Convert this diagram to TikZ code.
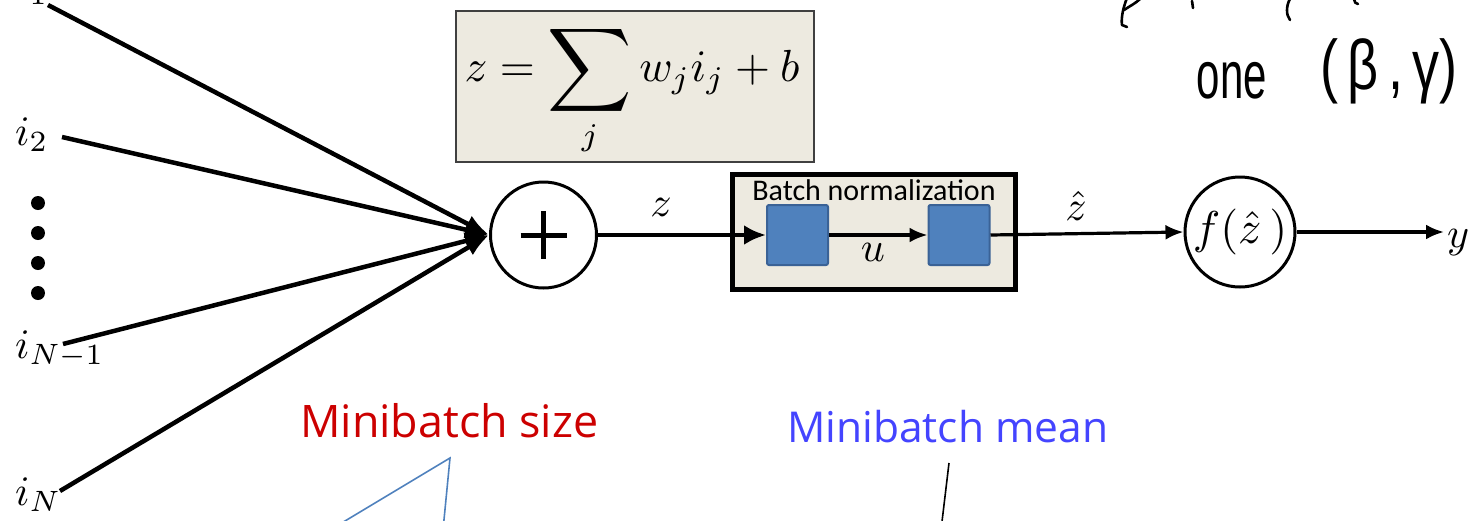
\documentclass[tikz,border=0pt]{standalone}
\usepackage{amsmath}
\usepackage{fontspec}
\usepackage{graphicx}
\usetikzlibrary{arrows.meta}
\newfontfamily\calib{Carlito}
\newfontfamily\comic{Open Sans}
\newfontfamily\hand{Liberation Sans}
\newcommand{\MS}[2]{\scalebox{#1}{$#2$}}
\newcommand{\BigSum}{\mathop{\vcenter{\hbox{\scalebox{1.3}{$\displaystyle\sum$}}}}\limits}
\definecolor{boxfill}{RGB}{237,234,224}
\definecolor{sqfill}{RGB}{79,129,189}
\definecolor{sqline}{RGB}{58,98,150}
\definecolor{mbred}{RGB}{204,0,0}
\definecolor{mbblue}{RGB}{68,68,255}
\definecolor{thinblue}{RGB}{79,129,189}
\begin{document}
\begin{tikzpicture}[x=1pt,y=-1pt,
  inp/.style={line width=4.5pt,-{Latex[length=24pt,width=18pt]}},
  mainarr/.style={line width=4.5pt,-{Latex[length=22pt,width=20pt]}},
  midarr/.style={line width=3.2pt,-{Latex[length=18pt,width=15pt]}},
  lab/.style={inner sep=0pt},
  sq/.style={draw=sqline,fill=sqfill,line width=2pt,rounded corners=2pt,minimum width=61pt,minimum height=60pt,inner sep=0pt},
  hw/.style={line width=2.6pt,line cap=round,line join=round},
  dot/.style={circle,fill=black,minimum size=14pt,inner sep=0pt}]
\useasboundingbox (0,0) rectangle (1476,520);

% input labels
\node[lab,anchor=base west] (i1) at (15,-2) {\MS{4.2}{i_1}};
\node[lab,anchor=base west] (i2) at (15,145) {\MS{4.2}{i_2}};
\node[lab,anchor=base west] (iN1) at (15,358) {\MS{4.2}{i_{N-1}}};
\node[lab,anchor=base west] (iN) at (15,505) {\MS{4.2}{i_N}};
\node[dot] (d1) at (38,203) {};
\node[dot] (d2) at (38,233) {};
\node[dot] (d3) at (38,263) {};
\node[dot] (d4) at (38,293) {};

% summation node
\node[circle,draw,line width=3pt,minimum size=106pt,inner sep=0pt] (plus) at (543.5,235) {};
\draw[line width=5pt] (plus.center) ++(-23,0) -- ++(46,0);
\draw[line width=5pt] (plus.center) ++(0,-24) -- ++(0,48);

\coordinate (s1) at (48,5);
\coordinate (s2) at (62,137);
\coordinate (s3) at (63,344);
\coordinate (s4) at (60,491);
\draw[inp] (s1) -- (plus.west);
\draw[inp] (s2) -- (plus.west);
\draw[inp] (s3) -- (plus.west);
\draw[inp] (s4) -- (plus.west);

% formula box
\node[draw=black!75,line width=2pt,fill=boxfill,minimum width=358pt,minimum height=151pt,inner sep=0pt] (zbox) at (635,86.5) {};
\node[inner sep=0pt] (formula) at (632,90) {\MS{4.5}{\displaystyle z=\BigSum_j w_j i_j+b}};

% batch normalization box
\node[draw,line width=5pt,fill=boxfill,minimum width=283pt,minimum height=115pt,inner sep=0pt] (bn) at (874,232) {};
\node[anchor=base,inner sep=0pt] (bntitle) at (874,200) {\calib\fontsize{30}{32}\selectfont Batch normalization};
\node[sq] (sq1) at (797.5,235) {};
\node[sq] (sq2) at (959,235) {};

% output node
\node[circle,draw,line width=3pt,minimum size=110pt,inner sep=0pt] (fc) at (1240,232) {\MS{4.6}{f(\hat z\,)}};
\coordinate (yend) at (1444,232);
\node[lab,anchor=base west] (yl) at (1447,247) {\MS{4.2}{y}};

% connectors
\draw[mainarr] (plus.east) -- (sq1.west);
\draw[midarr] (sq1.east) -- (sq2.west);
\draw[midarr] (sq2.east) -- (fc.west);
\draw[midarr] (fc.east) -- (yend);

% edge labels
\node[lab] (zl) at (661,207) {\MS{4.2}{z}};
\node[lab] (ul) at (873,252) {\MS{4.2}{u}};
\node[lab] (zhl) at (1076,206) {\MS{4.2}{\hat z}};

% annotations
\node[anchor=base west,inner sep=0pt,text=mbred] (mbs) at (300,437) {\resizebox{298pt}{!}{\comic Minibatch size}};
\node[anchor=base west,inner sep=0pt,text=mbblue] (mbm) at (787,442) {\resizebox{321pt}{!}{\comic Minibatch mean}};
\coordinate (ta) at (450,458);
\coordinate (tl) at (330,530);
\coordinate (tr) at (443,530);
\draw[thinblue,line width=1.6pt,line join=miter] (tl) -- (ta) -- (tr);
\coordinate (ma) at (949,463);
\coordinate (mb) at (941,530);
\draw[line width=1.6pt] (ma) -- (mb);

% handwriting
\draw[hw] (1127,-2) .. controls (1123,8) and (1121,18) .. (1122,25) -- (1127,27);
\draw[hw] (1124,10) .. controls (1130,6) and (1136,3) .. (1140,-1);
\draw[hw] (1192,1) -- (1193,8);
\draw[hw] (1290,-1) .. controls (1286,6) and (1286,15) .. (1290,20);
\draw[hw] (1354,-1) .. controls (1354,2) and (1356,4) .. (1358,4);
\node[inner sep=0pt] (hw1) at (1232,81) {\scalebox{1}[1.6]{\hand\fontsize{42}{44}\selectfont one}};
\node[inner sep=0pt] (hw2) at (1389,71) {\scalebox{1}[1.3]{\hand\fontsize{54}{56}\selectfont (\,β\,,\,γ)}};
\end{tikzpicture}
\end{document}
